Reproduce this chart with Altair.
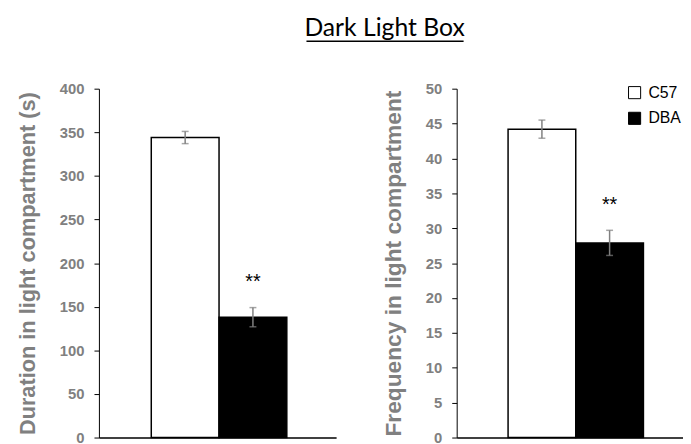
import altair as alt
import pandas as pd

strains = ["C57", "DBA"]
duration = [344.0, 138.0]
duration_err = [7.0, 11.0]
frequency = [44.2, 27.9]
frequency_err = [1.3, 1.8]
signif = ["", "**"]
fills = ["#ffffff", "#000000"]
title_text = "Dark Light Box"

GRAY = "#808080"
AXFONT = "Liberation Sans"


def panel(values, errs, ymax, ystep, ytitle, width, pad_outer, align, show_legend, title_font):
    df = pd.DataFrame({
        "strain": strains,
        "value": values,
        "lo": [v - e for v, e in zip(values, errs)],
        "hi": [v + e for v, e in zip(values, errs)],
        "sig": signif,
    })
    xaxis = alt.Axis(labels=False, ticks=False, title=None, domainColor="#000000",
                     domainWidth=1.5)
    xscale = alt.Scale(paddingInner=0, paddingOuter=pad_outer, align=align)
    xs = alt.X("strain:N", sort=strains, scale=xscale, axis=xaxis)
    yscale = alt.Scale(domain=[0, ymax], nice=False)
    yaxis = alt.Axis(values=list(range(0, ymax + 1, ystep)), title=ytitle, grid=False,
                     domainColor="#000000", tickColor="#000000", tickSize=5,
                     labelPadding=10, labelFont=AXFONT, labelFontWeight="bold",
                     labelFontSize=15, labelColor=GRAY, titleFont=AXFONT,
                     titleFontWeight="bold", titleFontSize=title_font, titleColor=GRAY,
                     titlePadding=20, labelOverlap=False)
    legend = (alt.Legend(title=None, orient="none", legendX=172, legendY=-4,
                         symbolType="square", symbolSize=150, symbolStrokeColor="#000000",
                         symbolStrokeWidth=1, labelFont=AXFONT, labelFontSize=16,
                         labelColor="#000000", rowPadding=8, labelOffset=6)
              if show_legend else None)
    bars = alt.Chart(df).mark_bar(stroke="#000000", strokeWidth=1.5).encode(
        x=xs,
        y=alt.Y("value:Q", scale=yscale, axis=yaxis),
        fill=alt.Fill("strain:N", sort=strains,
                      scale=alt.Scale(domain=strains, range=fills), legend=legend),
    )
    err = alt.Chart(df).mark_rule(color=GRAY, strokeWidth=1.5).encode(
        x=xs, y=alt.Y("lo:Q", scale=yscale, axis=yaxis), y2="hi:Q")
    caps_hi = alt.Chart(df).mark_tick(color=GRAY, thickness=1.5, size=7, orient="horizontal").encode(
        x=xs, y=alt.Y("hi:Q", scale=yscale, axis=yaxis))
    caps_lo = alt.Chart(df).mark_tick(color=GRAY, thickness=1.5, size=7, orient="horizontal").encode(
        x=xs, y=alt.Y("lo:Q", scale=yscale, axis=yaxis))
    stars = alt.Chart(df).mark_text(font=AXFONT, fontSize=20, color="#000000",
                                    baseline="middle", dy=-26).encode(
        x=xs, y=alt.Y("hi:Q", scale=yscale, axis=yaxis), text="sig:N")
    return alt.layer(bars, err, caps_hi, caps_lo, stars).properties(width=width, height=353)


left = panel(duration, duration_err, 400, 50, "Duration in light compartment (s)",
             240, 0.75, 0.515, False, 22)
right = panel(frequency, frequency_err, 50, 5, "Frequency in light compartment",
              229, 0.672, 0.565, True, 23)

tdf = pd.DataFrame({"t": [title_text]})
title_mark = alt.Chart(tdf).mark_text(font="Lato", fontSize=25, color="#000000",
                                      align="center", baseline="alphabetic").encode(
    x=alt.value(289), y=alt.value(-53), text="t:N")
underline = alt.Chart(tdf).mark_rule(color="#000000", strokeWidth=1.5).encode(
    x=alt.value(210), x2=alt.value(369), y=alt.value(-48))

left = alt.layer(left, title_mark, underline)

chart = alt.hconcat(left, right, spacing=122, bounds="flush").resolve_scale(
    fill="independent", y="independent", x="independent"
).configure_view(stroke=None).properties(padding={"left": 8, "top": 6, "right": 0, "bottom": 5})

chart.save("out.html", embed_options={"renderer": "svg", "actions": False})
